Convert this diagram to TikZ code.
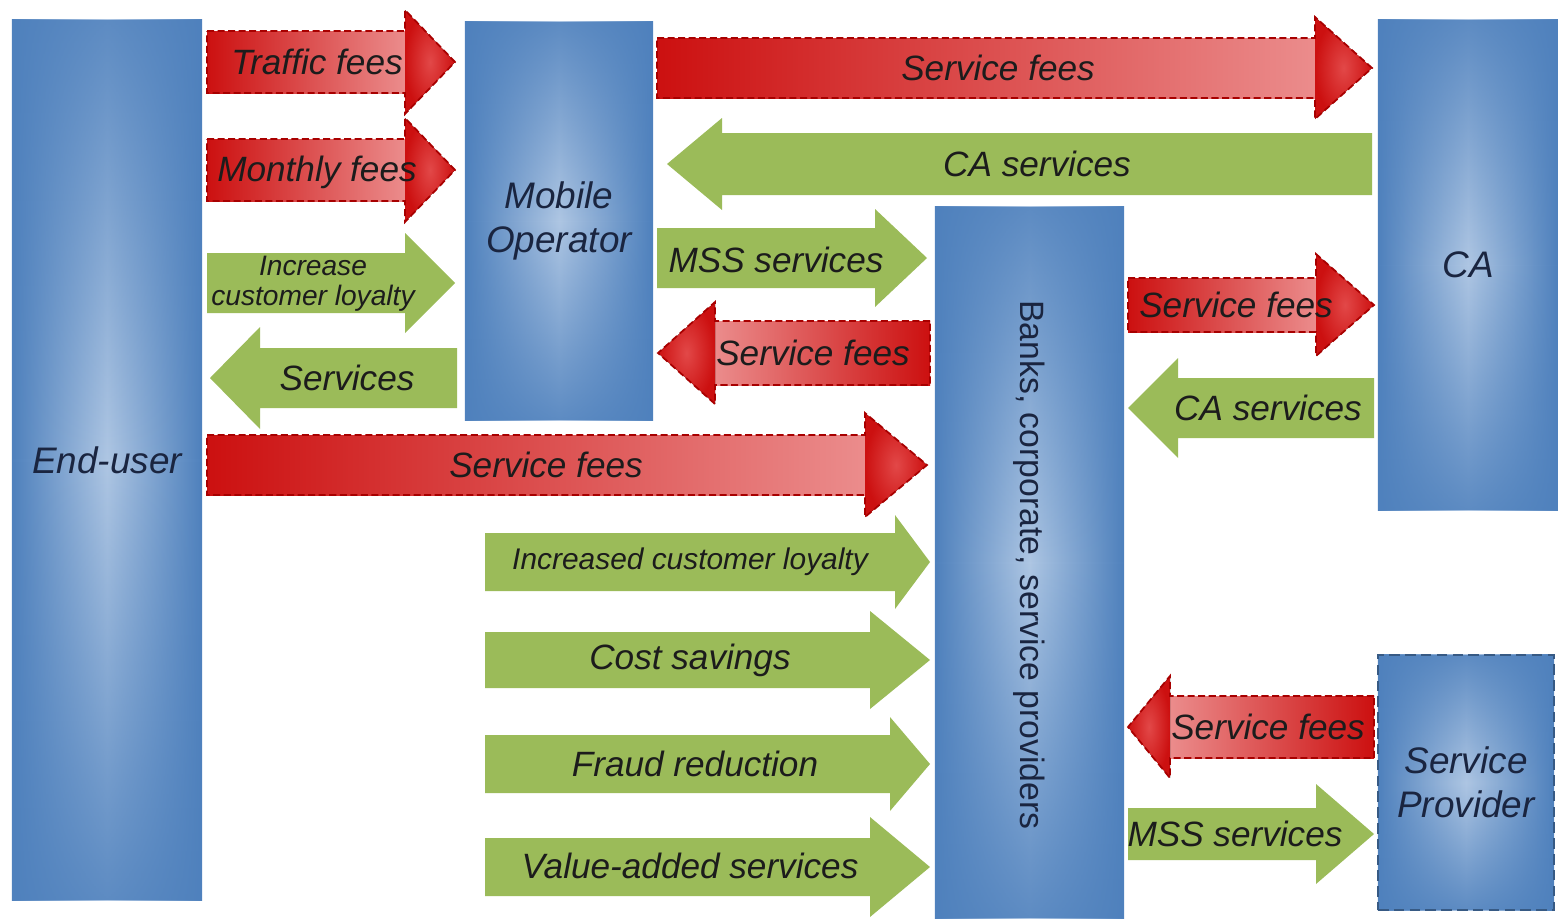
\documentclass[tikz,border=0pt]{standalone}
\usepackage{fontspec}
\setmainfont{Liberation Sans}
\usetikzlibrary{fadings}

\definecolor{boxblue}{HTML}{4F81BD}
\definecolor{boxlight}{HTML}{AEC6E3}
\definecolor{boxtext}{HTML}{1A2540}
\definecolor{servgreen}{HTML}{9BBB59}
\definecolor{feedark}{HTML}{CC1010}
\definecolor{feelight}{HTML}{EB8C8C}
\definecolor{feehi}{HTML}{E24848}
\definecolor{feeedge}{HTML}{A80000}
\definecolor{textdark}{HTML}{1C1C1C}

% darker blue towards the top and bottom of each box
\tikzfading[name=boxends, top color=transparent!15, bottom color=transparent!15, middle color=transparent!100]

\tikzset{
  boxlbl/.style={inner sep=0pt, outer sep=0pt, align=center, text=boxtext,
    font=\fontsize{10.5}{12.5}\selectfont\itshape},
  bluebox/.style={boxlbl, left color=boxblue, right color=boxblue, middle color=boxlight,
    path picture={\fill[boxblue, path fading=boxends]
      (path picture bounding box.south west) rectangle (path picture bounding box.north east);}},
  spbox/.style={draw=boxblue!70!black, line width=0.8pt, dash pattern=on 3pt off 1.5pt},
  feeR/.style={left color=feedark, right color=feelight},
  feeL/.style={left color=feelight, right color=feedark},
  feehead/.style={inner color=feehi, outer color=feedark},
  feeline/.style={draw=feeedge, line width=0.5pt, dash pattern=on 2pt off 1pt},
  arrowlbl/.style={inner sep=0pt, text=textdark, align=center,
    font=\fontsize{10}{12}\selectfont\itshape},
  smalllbl/.style={arrowlbl, font=\fontsize{8}{8.5}\selectfont\itshape}
}

% block arrows: tail x, tip x, mid y, half shaft, half head, head base x
\newcommand{\feearrow}[7]{%
  \fill[#1] ({#2},{#4-#5}) rectangle ({#7},{#4+#5});
  \fill[feehead] ({#7},{#4-#6}) -- ({#3},{#4}) -- ({#7},{#4+#6}) -- cycle;
  \draw[feeline] ({#2},{#4-#5}) -- ({#7},{#4-#5}) -- ({#7},{#4-#6}) -- ({#3},{#4})
    -- ({#7},{#4+#6}) -- ({#7},{#4+#5}) -- ({#2},{#4+#5}) -- cycle;}
\newcommand{\servarrow}[6]{%
  \fill[servgreen] ({#1},{#3-#4}) -- ({#6},{#3-#4}) -- ({#6},{#3-#5}) -- ({#2},{#3})
    -- ({#6},{#3+#5}) -- ({#6},{#3+#4}) -- ({#1},{#3+#4}) -- cycle;}

\begin{document}
\begin{tikzpicture}[x=0.01cm, y=-0.01cm]
\useasboundingbox (0,0) rectangle (1558,918);

% the parties
\node[bluebox, minimum width=1.90cm, minimum height=8.80cm] (enduser) at (107,460) {End-user};
\node[bluebox, minimum width=1.88cm, minimum height=3.98cm] (mobileop) at (559,221) {Mobile\\Operator};
\node[bluebox, minimum width=1.89cm, minimum height=7.11cm] (banks) at (1029.5,562.5) {};
\node[boxlbl, rotate=-90, font=\fontsize{9.6}{12}\selectfont]
  (bankslbl) at (1029.5,565) {Banks, corporate, service providers};
\node[bluebox, minimum width=1.80cm, minimum height=4.90cm] (ca) at (1468,265) {CA};
\node[bluebox, spbox, minimum width=1.76cm, minimum height=2.55cm] (sprov) at (1466,782.5) {Service\\Provider};

% end-user <-> mobile operator
\feearrow{feeR}{207}{455}{62}{31}{52}{405}
\node[arrowlbl] (trafficfees) at (317,62) {Traffic fees};
\feearrow{feeR}{207}{455}{170}{31}{52}{405}
\node[arrowlbl] (monthlyfees) at (317,172) {Monthly fees};
\servarrow{207}{455}{283}{30}{50}{405}
\node[smalllbl] (loyaltyop) at (313,284) {Increase\\customer loyalty};
\servarrow{457}{210}{378}{30}{51}{260}
\node[arrowlbl] (services) at (347,378) {Services};

% mobile operator <-> CA and banks
\feearrow{feeR}{657}{1372}{68}{30}{51}{1315}
\node[arrowlbl] (opcafees) at (998,68) {Service fees};
\servarrow{1372}{667}{164}{31}{46}{722}
\node[arrowlbl] (caserv) at (1037,164) {CA services};
\servarrow{657}{927}{258}{30}{49}{875}
\node[arrowlbl] (mssop) at (776,260) {MSS services};
\feearrow{feeL}{930}{658}{353}{32}{51}{715}
\node[arrowlbl] (opfees) at (813,353) {Service fees};

% end-user -> banks
\feearrow{feeR}{207}{927}{465}{30}{52}{865}
\node[arrowlbl] (userfees) at (546,465) {Service fees};
\servarrow{485}{930}{562}{29}{47}{895}
\node[arrowlbl, font=\fontsize{8.5}{10}\selectfont\itshape] (loyaltybk) at (690,562) {Increased customer loyalty};
\servarrow{485}{930}{660}{28}{49}{870}
\node[arrowlbl] (costsav) at (690,660) {Cost savings};
\servarrow{485}{930}{764}{29}{47}{890}
\node[arrowlbl] (fraudred) at (695,764) {Fraud reduction};
\servarrow{485}{930}{867}{29}{50}{870}
\node[arrowlbl] (valueadd) at (690,866) {Value-added services};

% banks <-> CA and service provider
\feearrow{feeR}{1128}{1374}{305}{27}{51}{1316}
\node[arrowlbl] (bkcafees) at (1236,305) {Service fees};
\servarrow{1374}{1128}{408}{30}{50}{1178}
\node[arrowlbl] (cabkserv) at (1268,408) {CA services};
\feearrow{feeL}{1374}{1128}{727}{31}{51}{1170}
\node[arrowlbl] (spfees) at (1268,727) {Service fees};
\servarrow{1128}{1374}{834}{26}{50}{1316}
\node[arrowlbl] (mssbk) at (1235,834) {MSS services};
\end{tikzpicture}
\end{document}
